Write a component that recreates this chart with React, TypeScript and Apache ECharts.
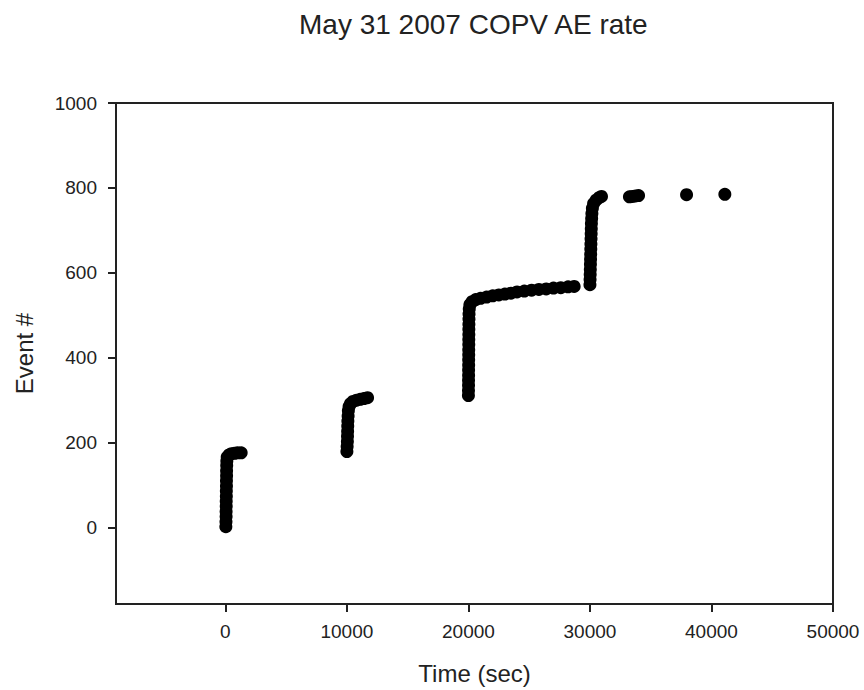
import React, { useEffect, useRef } from "react";
import * as echarts from "echarts";

const TITLE = "May 31 2007 COPV AE rate";
const X_NAME = "Time (sec)";
const Y_NAME = "Event #";
const X_TICKS = [0, 10000, 20000, 30000, 40000, 50000];
const Y_TICKS = [0, 200, 400, 600, 800, 1000];

// [time (sec), event #]
const burst1: [number, number][] = [
  [40, 2], [50, 14], [60, 26], [60, 38], [70, 50], [70, 62], [80, 74], [80, 86],
  [90, 98], [90, 110], [100, 122], [100, 134], [110, 146], [120, 157], [150, 166],
  [300, 171], [500, 174], [750, 175], [1000, 176], [1300, 176],
];
const burst2: [number, number][] = [
  [10000, 179], [10020, 191], [10040, 203], [10050, 215], [10060, 227], [10070, 239],
  [10080, 251], [10100, 263], [10120, 275], [10180, 285], [10300, 292], [10500, 297],
  [10800, 300], [11100, 302], [11400, 304], [11700, 306],
];
const burst3: [number, number][] = [
  [20000, 311], [20005, 323], [20010, 335], [20010, 347], [20015, 359], [20015, 371],
  [20020, 383], [20020, 395], [20025, 407], [20025, 419], [20030, 431], [20030, 443],
  [20035, 455], [20035, 467], [20040, 479], [20045, 491], [20050, 503], [20070, 515],
  [20120, 525], [20300, 532], [20600, 537], [21000, 540], [21500, 543], [22000, 546],
  [22500, 548], [23000, 550], [23500, 552], [24000, 555], [24600, 557], [25200, 559],
  [25800, 561], [26400, 562], [27000, 564], [27600, 565], [28200, 567], [28700, 568],
];
const burst4: [number, number][] = [
  [30000, 572], [30010, 584], [30020, 596], [30030, 608], [30040, 620], [30050, 632],
  [30060, 644], [30070, 656], [30080, 668], [30090, 680], [30100, 692], [30110, 704],
  [30120, 716], [30140, 728], [30160, 740], [30200, 752], [30300, 763], [30500, 771],
  [30750, 777], [30950, 780],
];
const tail: [number, number][] = [
  [33250, 779], [33500, 780], [33750, 781], [34000, 782], [37950, 784], [41100, 785],
];

const FONT = "'Liberation Sans', Arial, sans-serif";
const TEXT = "#222";
const AXIS = "#222";

export default function App() {
  const ref = useRef<HTMLDivElement>(null);
  useEffect(() => {
    if (!ref.current) return;
    const chart = echarts.init(ref.current, null, { renderer: "svg" });
    const data = [...burst1, ...burst2, ...burst3, ...burst4, ...tail];
    chart.setOption({
      animation: false,
      backgroundColor: "#fff",
      title: {
        text: TITLE,
        left: 294,
        top: 5,
        textStyle: { fontFamily: FONT, fontSize: 28, fontWeight: "normal", color: TEXT },
      },
      grid: {
        left: 116,
        right: 31,
        top: 103,
        bottom: 85,
        show: true,
        borderColor: AXIS,
        borderWidth: 2,
      },
      xAxis: {
        type: "value",
        min: -9000,
        max: 50000,
        name: X_NAME,
        nameLocation: "middle",
        nameGap: 57,
        nameTextStyle: { fontFamily: FONT, fontSize: 24, color: TEXT },
        axisLine: { show: true, onZero: false, lineStyle: { color: AXIS, width: 2 } },
        axisTick: { show: true, inside: false, length: 8, customValues: X_TICKS, lineStyle: { color: AXIS, width: 2 } },
        axisLabel: {
          customValues: X_TICKS,
          formatter: (v: number) => String(v),
          margin: 18,
          fontFamily: FONT,
          fontSize: 19,
          color: TEXT,
        },
        splitLine: { show: false },
      },
      yAxis: {
        type: "value",
        min: -180,
        max: 1000,
        name: Y_NAME,
        nameLocation: "middle",
        nameGap: 80,
        nameRotate: 90,
        nameTextStyle: { fontFamily: FONT, fontSize: 24, color: TEXT },
        axisLine: { show: true, onZero: false, lineStyle: { color: AXIS, width: 2 } },
        axisTick: { show: true, inside: false, length: 8, customValues: Y_TICKS, lineStyle: { color: AXIS, width: 2 } },
        axisLabel: {
          customValues: Y_TICKS,
          formatter: (v: number) => String(v),
          margin: 19,
          fontFamily: FONT,
          fontSize: 19,
          color: TEXT,
        },
        splitLine: { show: false },
      },
      series: [
        {
          type: "scatter",
          data,
          symbol: "circle",
          symbolSize: 13,
          itemStyle: { color: "#000", opacity: 1 },
          clip: true,
        },
      ],
    });
    return () => chart.dispose();
  }, []);
  return (
    <div
      ref={ref}
      style={{ position: "fixed", left: 0, top: 0, width: 864, height: 690, background: "#fff" }}
    />
  );
}
